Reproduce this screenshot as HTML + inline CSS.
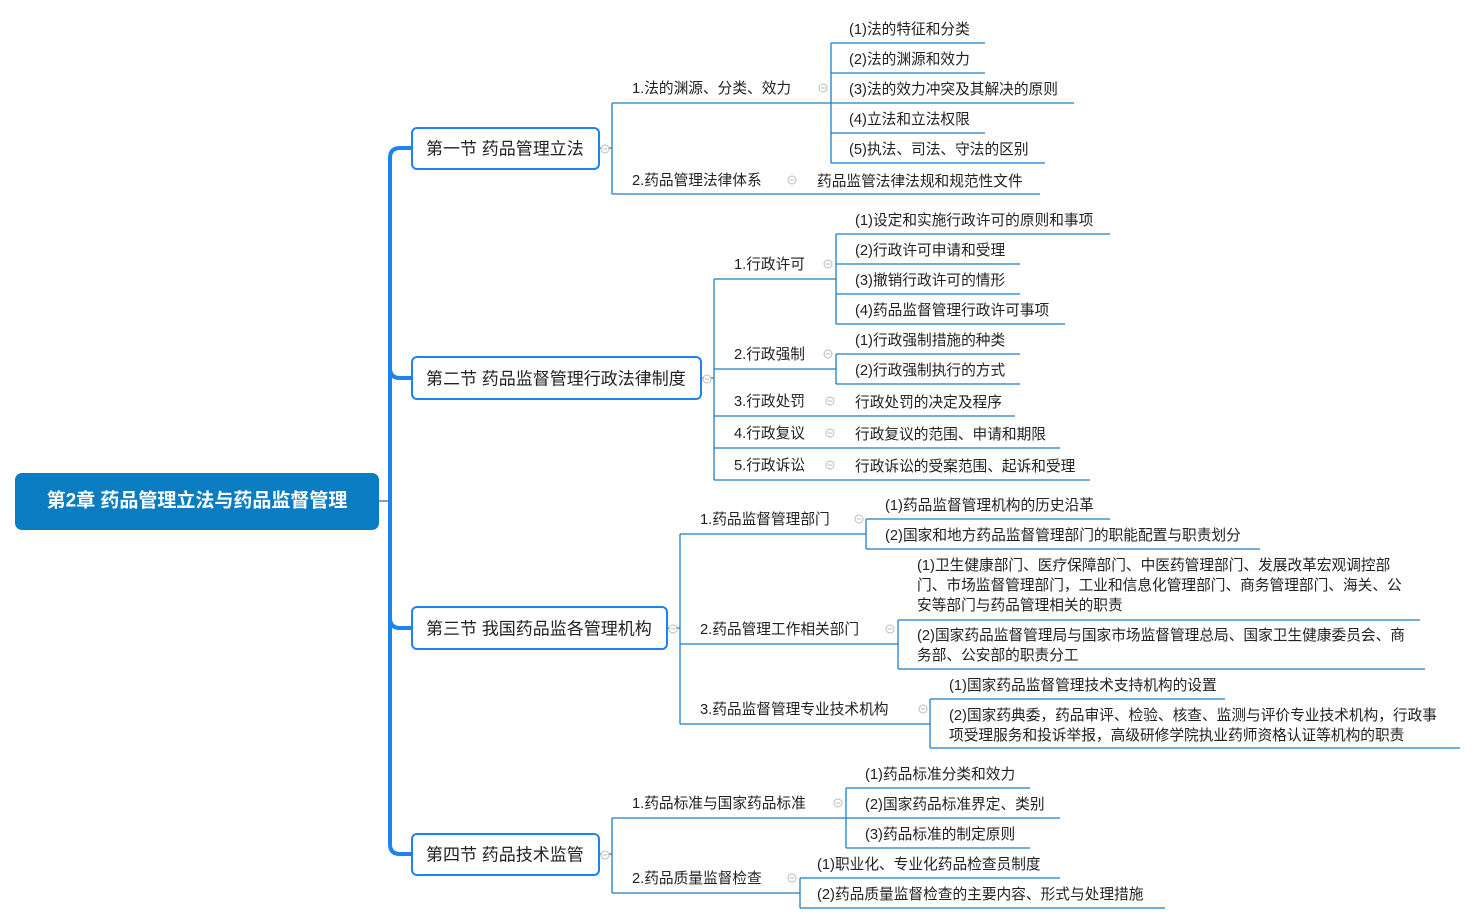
<!DOCTYPE html>
<html><head><meta charset="utf-8"><style>
html,body{margin:0;padding:0;background:#fff;width:1476px;height:924px;overflow:hidden}
svg{display:block}
text{font-family:"Liberation Sans","Noto Sans CJK SC",sans-serif;font-size:14.7px;fill:#222;dominant-baseline:central}
.s{font-size:17px}
.l{stroke:#1a7fc8;stroke-width:1.3;fill:none}
.c{fill:#fff;stroke:#bbb;stroke-width:1}
.m{stroke:#bbb;stroke-width:1}
</style></head><body>
<svg width="1476" height="924" viewBox="0 0 1476 924">
<rect x="15" y="473" width="364" height="57" rx="7" fill="#0a7dc2"/>
<text x="197" y="501" text-anchor="middle" style="font-size:19px;font-weight:bold;fill:#fff">第2章 药品管理立法与药品监督管理</text>
<line x1="379" y1="501" x2="390" y2="501" stroke="#333" stroke-width="1"/>
<path d="M411 148 H400 Q390 148 390 158 V844 Q390 854 400 854 H411 M390 368 Q390 378 400 378 H411 M390 618 Q390 628 400 628 H411" stroke="#1e82f0" stroke-width="4" fill="none"/>
<rect x="412" y="128" width="187" height="41" rx="5" fill="#fff" stroke="#1e82f0" stroke-width="2"/>
<text class="s" x="426" y="149">第一节 药品管理立法</text>
<rect x="412" y="357" width="289" height="42" rx="5" fill="#fff" stroke="#1e82f0" stroke-width="2"/>
<text class="s" x="426" y="379">第二节 药品监督管理行政法律制度</text>
<rect x="412" y="607" width="255" height="42" rx="5" fill="#fff" stroke="#1e82f0" stroke-width="2"/>
<text class="s" x="426" y="629">第三节 我国药品监各管理机构</text>
<rect x="412" y="834" width="187" height="41" rx="5" fill="#fff" stroke="#1e82f0" stroke-width="2"/>
<text class="s" x="426" y="855">第四节 药品技术监管</text>

<path class="l" d="M599 148 H612 M612 103 V194 M612 103 H1074 M612 194 H1040 M831 43 V163 M831 43 H985 M831 73 H985 M831 133 H985 M831 163 H1045"/>
<g transform="translate(0,1)">
<text x="632" y="88">1.法的渊源、分类、效力</text>
<text x="849" y="29">(1)法的特征和分类</text>
<text x="849" y="59">(2)法的渊源和效力</text>
<text x="849" y="89">(3)法的效力冲突及其解决的原则</text>
<text x="849" y="119">(4)立法和立法权限</text>
<text x="849" y="149">(5)执法、司法、守法的区别</text>
<text x="632" y="180">2.药品管理法律体系</text>
<text x="817" y="181">药品监管法律法规和规范性文件</text>
<text x="734" y="264">1.行政许可</text>
<text x="855" y="220">(1)设定和实施行政许可的原则和事项</text>
<text x="855" y="250">(2)行政许可申请和受理</text>
<text x="855" y="280">(3)撤销行政许可的情形</text>
<text x="855" y="310">(4)药品监督管理行政许可事项</text>
<text x="734" y="354">2.行政强制</text>
<text x="855" y="340">(1)行政强制措施的种类</text>
<text x="855" y="370">(2)行政强制执行的方式</text>
<text x="734" y="401">3.行政处罚</text>
<text x="855" y="402">行政处罚的决定及程序</text>
<text x="734" y="433">4.行政复议</text>
<text x="855" y="434">行政复议的范围、申请和期限</text>
<text x="734" y="465">5.行政诉讼</text>
<text x="855" y="466">行政诉讼的受案范围、起诉和受理</text>
<text x="700" y="519">1.药品监督管理部门</text>
<text x="885" y="505">(1)药品监督管理机构的历史沿革</text>
<text x="885" y="535">(2)国家和地方药品监督管理部门的职能配置与职责划分</text>
<text x="700" y="629">2.药品管理工作相关部门</text>
<text x="917" y="565">(1)卫生健康部门、医疗保障部门、中医药管理部门、发展改革宏观调控部</text>
<text x="917" y="585">门、市场监督管理部门，工业和信息化管理部门、商务管理部门、海关、公</text>
<text x="917" y="605">安等部门与药品管理相关的职责</text>
<text x="917" y="635">(2)国家药品监督管理局与国家市场监督管理总局、国家卫生健康委员会、商</text>
<text x="917" y="655">务部、公安部的职责分工</text>
<text x="700" y="709">3.药品监督管理专业技术机构</text>
<text x="949" y="685">(1)国家药品监督管理技术支持机构的设置</text>
<text x="949" y="715">(2)国家药典委，药品审评、检验、核查、监测与评价专业技术机构，行政事</text>
<text x="949" y="735">项受理服务和投诉举报，高级研修学院执业药师资格认证等机构的职责</text>
<text x="632" y="803">1.药品标准与国家药品标准</text>
<text x="865" y="774">(1)药品标准分类和效力</text>
<text x="865" y="804">(2)国家药品标准界定、类别</text>
<text x="865" y="834">(3)药品标准的制定原则</text>
<text x="632" y="878">2.药品质量监督检查</text>
<text x="817" y="864">(1)职业化、专业化药品检查员制度</text>
<text x="817" y="894">(2)药品质量监督检查的主要内容、形式与处理措施</text>
</g>

<path class="l" d="M701 378 H714 M714 279 V480 M714 279 H836 M836 234 V324 M836 234 H1110 M836 264 H1020 M836 294 H1020 M836 324 H1065 M714 369 H836 M836 354 V384 M836 354 H1020 M836 384 H1020 M714 416 H1015 M714 448 H1060 M714 480 H1090"/>
<path class="l" d="M667 628 H680 M680 534 V724 M680 534 H866 M866 519 V549 M866 519 H1110 M866 549 H1260 M680 644 H898 M898 620 V669 M898 620 H1420 M898 669 H1425 M680 724 H930 M930 699 V748 M930 699 H1225 M930 748 H1460"/>
<path class="l" d="M599 854 H612 M612 818 V893 M612 818 H846 M846 788 V848 M846 788 H1030 M846 818 H1060 M846 848 H1030 M612 893 H800 M800 878 V908 M800 878 H1060 M800 908 H1165"/>

<g>
<circle class="c" cx="605" cy="149" r="4"/><line class="m" x1="603" y1="149" x2="607" y2="149"/>
<circle class="c" cx="707" cy="379" r="4"/><line class="m" x1="705" y1="379" x2="709" y2="379"/>
<circle class="c" cx="673" cy="629" r="4"/><line class="m" x1="671" y1="629" x2="675" y2="629"/>
<circle class="c" cx="605" cy="855" r="4"/><line class="m" x1="603" y1="855" x2="607" y2="855"/>
<circle class="c" cx="823" cy="88" r="4"/><line class="m" x1="821" y1="88" x2="825" y2="88"/>
<circle class="c" cx="792" cy="180" r="4"/><line class="m" x1="790" y1="180" x2="794" y2="180"/>
<circle class="c" cx="828" cy="264" r="4"/><line class="m" x1="826" y1="264" x2="830" y2="264"/>
<circle class="c" cx="828" cy="354" r="4"/><line class="m" x1="826" y1="354" x2="830" y2="354"/>
<circle class="c" cx="830" cy="401" r="4"/><line class="m" x1="828" y1="401" x2="832" y2="401"/>
<circle class="c" cx="830" cy="433" r="4"/><line class="m" x1="828" y1="433" x2="832" y2="433"/>
<circle class="c" cx="830" cy="465" r="4"/><line class="m" x1="828" y1="465" x2="832" y2="465"/>
<circle class="c" cx="859" cy="519" r="4"/><line class="m" x1="857" y1="519" x2="861" y2="519"/>
<circle class="c" cx="890" cy="629" r="4"/><line class="m" x1="888" y1="629" x2="892" y2="629"/>
<circle class="c" cx="923" cy="709" r="4"/><line class="m" x1="921" y1="709" x2="925" y2="709"/>
<circle class="c" cx="838" cy="803" r="4"/><line class="m" x1="836" y1="803" x2="840" y2="803"/>
<circle class="c" cx="792" cy="878" r="4"/><line class="m" x1="790" y1="878" x2="794" y2="878"/>
</g>
</svg>
</body></html>
